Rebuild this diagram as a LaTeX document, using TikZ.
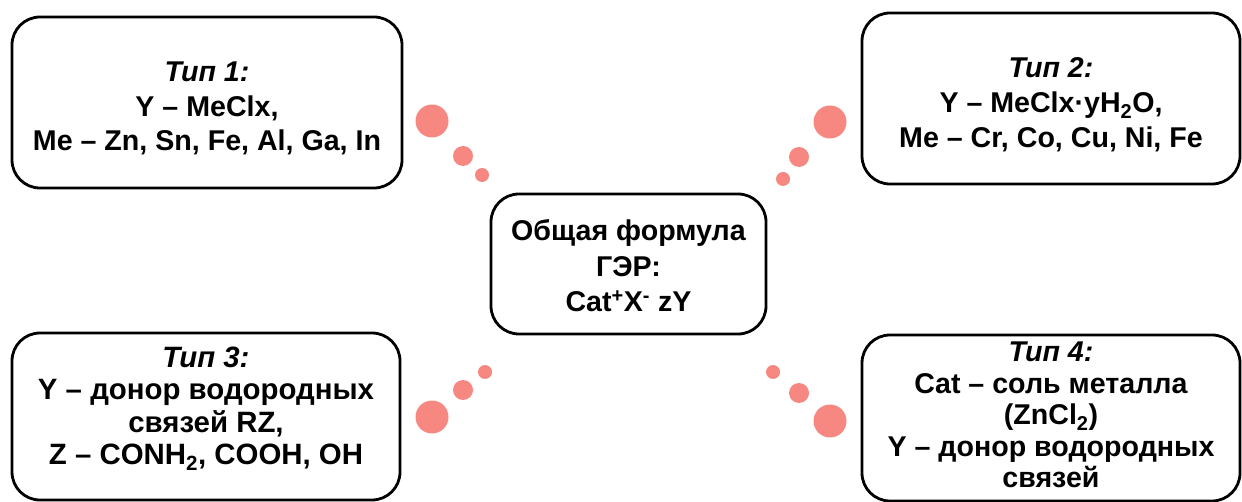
\documentclass[tikz,border=0pt]{standalone}
\usepackage{fontspec}
\setmainfont{Liberation Sans}
\definecolor{dotred}{RGB}{246,136,129}
\tikzset{
  card/.style={draw=black, line width=2.8pt, rounded corners=28pt, inner sep=0pt},
  cardtext/.style={align=center, inner sep=0pt, font=\bfseries\fontsize{28.6pt}{#1}\selectfont},
  widetext/.style={align=center, inner sep=0pt, font=\bfseries\fontsize{29.4pt}{#1}\selectfont},
  blob/.style={circle, fill=dotred, draw=none, inner sep=0pt},
  big/.style={blob, minimum size=33pt},
  mid/.style={blob, minimum size=20pt},
  tiny/.style={blob, minimum size=14pt},
}
\begin{document}
\begin{tikzpicture}[x=1pt, y=-1pt]
  \useasboundingbox (0,0) rectangle (1242,502);
  \fill[white] (0,0) rectangle (1242,502);

  % centre card
  \node[card, minimum width=275pt, minimum height=140pt] (core) at (628.5,264) {};
  \node[cardtext=35.5pt] (coretext) at ([yshift=-2pt]core.center)
    {Общая формула\\ГЭР:\\Cat\textsuperscript{+}X\textsuperscript{-} zY};

  % four type cards
  \node[card, minimum width=390pt, minimum height=171pt] (t1) at (207,102.5) {};
  \node[cardtext=34.5pt] (t1text) at ([yshift=-6pt]t1.center)
    {\textit{Тип 1:}\\Y – MeClx,\\Me – Zn, Sn, Fe, Al, Ga, In};

  \node[card, minimum width=378pt, minimum height=171pt] (t2) at (1051,98.5) {};
  \node[cardtext=35pt] (t2text) at ([yshift=-6.5pt]t2.center)
    {\textit{Тип 2:}\\Y – MeClx·yH\textsubscript{2}O,\\Me – Cr, Co, Cu, Ni, Fe};

  \node[card, minimum width=388pt, minimum height=167pt] (t3) at (206,416.5) {};
  \node[widetext=32.3pt] (t3text) at ([yshift=8pt]t3.center)
    {\textit{Тип 3:}\\Y – донор водородных\\связей RZ,\\Z – CONH\textsubscript{2}, COOH, OH};

  \node[card, minimum width=378pt, minimum height=166pt] (t4) at (1051,418) {};
  \node[cardtext=31.5pt] (t4text) at ([yshift=3pt]t4.center)
    {\textit{Тип 4:}\\Cat – соль металла\\(ZnCl\textsubscript{2})\\Y – донор водородных\\связей};

  % dotted trails towards the centre
  \node[big]  (a1) at (432,121) {};
  \node[mid]  (a2) at (463,156) {};
  \node[tiny] (a3) at (482,175) {};

  \node[big]  (b1) at (830,122) {};
  \node[mid]  (b2) at (799,157) {};
  \node[tiny] (b3) at (783,179) {};

  \node[big]  (c1) at (432,417) {};
  \node[mid]  (c2) at (463,390) {};
  \node[tiny] (c3) at (485,372) {};

  \node[big]  (d1) at (830,421) {};
  \node[mid]  (d2) at (799,393) {};
  \node[tiny] (d3) at (773,372) {};
\end{tikzpicture}
\end{document}
